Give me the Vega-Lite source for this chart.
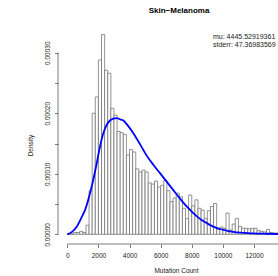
{
  "$schema": "https://vega.github.io/schema/vega-lite/v6.json",
  "width": 220,
  "height": 217,
  "autosize": "none",
  "padding": {"left": 58, "top": 27, "right": 0, "bottom": 32},
  "background": "white",
  "config": {
    "view": {"stroke": null},
    "font": "Liberation Sans",
    "axis": {"domain": false, "grid": false, "tickSize": 3.5, "tickColor": "#444", "tickWidth": 0.7, "labelFontSize": 6.5, "labelColor": "#222", "labelFlush": false, "labelOverlap": false, "labelSeparation": 0, "titleFontSize": 6.5, "titleFontWeight": "normal", "titleColor": "#222"},
    "axisX": {"values": [0, 2000, 4000, 6000, 8000, 10000, 12000, 14000], "labelOverlap": false, "labelBound": false, "labelPadding": 5, "titlePadding": 8, "titleX": 118, "labelExpr": "format(datum.value, 'd')"},
    "axisY": {"values": [0, 0.00005, 0.0001, 0.00015, 0.0002, 0.00025, 0.0003], "labelOverlap": false, "labelAngle": -90, "labelAlign": "center", "labelBaseline": "bottom", "labelPadding": 4.5, "labelExpr": "abs(datum.value*10000 - round(datum.value*10000)) < 0.01 ? format(datum.value, '.5f') : ''", "titlePadding": 11, "titleY": 118}
  },
  "title": {"text": "Skin\u2212Melanoma", "fontSize": 8, "fontWeight": "bold", "font": "Liberation Sans", "anchor": "middle", "dx": 11, "offset": 12, "color": "#000"},
  "datasets": {
    "hist": [
      {"bin_start": 0, "bin_end": 200, "density": 0},
      {"bin_start": 200, "bin_end": 400, "density": 0.000001},
      {"bin_start": 400, "bin_end": 600, "density": 0.000003},
      {"bin_start": 600, "bin_end": 800, "density": 0.000003},
      {"bin_start": 800, "bin_end": 1000, "density": 0.000005},
      {"bin_start": 1000, "bin_end": 1200, "density": 0.000003},
      {"bin_start": 1200, "bin_end": 1400, "density": 0.000015},
      {"bin_start": 1400, "bin_end": 1600, "density": 0.000072},
      {"bin_start": 1600, "bin_end": 1800, "density": 0.0002},
      {"bin_start": 1800, "bin_end": 2000, "density": 0.000227},
      {"bin_start": 2000, "bin_end": 2200, "density": 0.000288},
      {"bin_start": 2200, "bin_end": 2400, "density": 0.00033},
      {"bin_start": 2400, "bin_end": 2600, "density": 0.000271},
      {"bin_start": 2600, "bin_end": 2800, "density": 0.000266},
      {"bin_start": 2800, "bin_end": 3000, "density": 0.000208},
      {"bin_start": 3000, "bin_end": 3200, "density": 0.000197},
      {"bin_start": 3200, "bin_end": 3400, "density": 0.00017},
      {"bin_start": 3400, "bin_end": 3600, "density": 0.000168},
      {"bin_start": 3600, "bin_end": 3800, "density": 0.000165},
      {"bin_start": 3800, "bin_end": 4000, "density": 0.000131},
      {"bin_start": 4000, "bin_end": 4200, "density": 0.00014},
      {"bin_start": 4200, "bin_end": 4400, "density": 0.000136},
      {"bin_start": 4400, "bin_end": 4600, "density": 0.000108},
      {"bin_start": 4600, "bin_end": 4800, "density": 0.000103},
      {"bin_start": 4800, "bin_end": 5000, "density": 0.000106},
      {"bin_start": 5000, "bin_end": 5200, "density": 0.000103},
      {"bin_start": 5200, "bin_end": 5400, "density": 0.000085},
      {"bin_start": 5400, "bin_end": 5600, "density": 0.000083},
      {"bin_start": 5600, "bin_end": 5800, "density": 0.000088},
      {"bin_start": 5800, "bin_end": 6000, "density": 0.000078},
      {"bin_start": 6000, "bin_end": 6200, "density": 0.000081},
      {"bin_start": 6200, "bin_end": 6400, "density": 0.000089},
      {"bin_start": 6400, "bin_end": 6600, "density": 0.000072},
      {"bin_start": 6600, "bin_end": 6800, "density": 0.000054},
      {"bin_start": 6800, "bin_end": 7000, "density": 0.00006},
      {"bin_start": 7000, "bin_end": 7200, "density": 0.000068},
      {"bin_start": 7200, "bin_end": 7400, "density": 0.000062},
      {"bin_start": 7400, "bin_end": 7600, "density": 0.000043},
      {"bin_start": 7600, "bin_end": 7800, "density": 0.000026},
      {"bin_start": 7800, "bin_end": 8000, "density": 0.000065},
      {"bin_start": 8000, "bin_end": 8200, "density": 0.000047},
      {"bin_start": 8200, "bin_end": 8400, "density": 0.000057},
      {"bin_start": 8400, "bin_end": 8600, "density": 0.000043},
      {"bin_start": 8600, "bin_end": 8800, "density": 0.00004},
      {"bin_start": 8800, "bin_end": 9000, "density": 0.000026},
      {"bin_start": 9000, "bin_end": 9200, "density": 0.000039},
      {"bin_start": 9200, "bin_end": 9400, "density": 0.000046},
      {"bin_start": 9400, "bin_end": 9600, "density": 0.000051},
      {"bin_start": 9600, "bin_end": 9800, "density": 0.000008},
      {"bin_start": 9800, "bin_end": 10000, "density": 0.000012},
      {"bin_start": 10000, "bin_end": 10200, "density": 0.00001},
      {"bin_start": 10200, "bin_end": 10400, "density": 0.000035},
      {"bin_start": 10400, "bin_end": 10600, "density": 0.000007},
      {"bin_start": 10600, "bin_end": 10800, "density": 0.000017},
      {"bin_start": 10800, "bin_end": 11000, "density": 0.000026},
      {"bin_start": 11000, "bin_end": 11200, "density": 0.000013},
      {"bin_start": 11200, "bin_end": 11400, "density": 0.00001},
      {"bin_start": 11400, "bin_end": 11600, "density": 0.00001},
      {"bin_start": 11600, "bin_end": 11800, "density": 0.000009},
      {"bin_start": 11800, "bin_end": 12000, "density": 0.00001},
      {"bin_start": 12000, "bin_end": 12200, "density": 0.00001},
      {"bin_start": 12200, "bin_end": 12400, "density": 0.000006},
      {"bin_start": 12400, "bin_end": 12600, "density": 0.000005},
      {"bin_start": 12600, "bin_end": 12800, "density": 0.000004},
      {"bin_start": 12800, "bin_end": 13000, "density": 0.000008},
      {"bin_start": 13000, "bin_end": 13200, "density": 0.000003},
      {"bin_start": 13200, "bin_end": 13400, "density": 0.000002},
      {"bin_start": 13400, "bin_end": 13600, "density": 0.000002},
      {"bin_start": 13600, "bin_end": 13800, "density": 0.000002}
    ],
    "curve": [
      {"x": 0, "density": 0},
      {"x": 300, "density": 0.000004},
      {"x": 604, "density": 0.0000126},
      {"x": 900, "density": 0.000027},
      {"x": 1138, "density": 0.00004},
      {"x": 1568, "density": 0.000079},
      {"x": 1890, "density": 0.000117},
      {"x": 2102, "density": 0.000145},
      {"x": 2316, "density": 0.000167},
      {"x": 2533, "density": 0.000181},
      {"x": 2745, "density": 0.000188},
      {"x": 2957, "density": 0.000191},
      {"x": 3175, "density": 0.000192},
      {"x": 3387, "density": 0.00019},
      {"x": 3600, "density": 0.000188},
      {"x": 3818, "density": 0.000182},
      {"x": 4030, "density": 0.000175},
      {"x": 4242, "density": 0.000167},
      {"x": 4673, "density": 0.000149},
      {"x": 5103, "density": 0.00013},
      {"x": 5528, "density": 0.000115},
      {"x": 5958, "density": 0.000101},
      {"x": 6389, "density": 0.000087},
      {"x": 6813, "density": 0.000073},
      {"x": 7244, "density": 0.000059},
      {"x": 7674, "density": 0.000046},
      {"x": 8100, "density": 0.000035},
      {"x": 8529, "density": 0.0000255},
      {"x": 8959, "density": 0.0000185},
      {"x": 9384, "density": 0.0000128},
      {"x": 9815, "density": 0.0000088},
      {"x": 10246, "density": 0.000006},
      {"x": 10673, "density": 0.000004},
      {"x": 11100, "density": 0.0000027},
      {"x": 11955, "density": 0.0000015},
      {"x": 12800, "density": 0.0000009},
      {"x": 13543, "density": 0.0000005}
    ],
    "notes": [
      {"x": 9365, "y": 0.000326, "label": "mu: 4445.52919361"},
      {"x": 9365, "y": 0.0003127, "label": "stderr: 47.36983569"}
    ]
  },
  "layer": [
    {
      "data": {"name": "hist"},
      "mark": {"type": "rect", "fill": "white", "stroke": "#666", "strokeWidth": 0.7, "clip": true},
      "encoding": {
        "x": {"field": "bin_start", "type": "quantitative", "title": "Mutation Count", "scale": {"domain": [-598, 13543], "nice": false, "zero": false}},
        "x2": {"field": "bin_end"},
        "y": {"field": "density", "type": "quantitative", "title": "Density", "scale": {"domain": [-0.000016, 0.0003425], "nice": false, "zero": false}},
        "y2": {"datum": 0}
      }
    },
    {
      "data": {"name": "curve"},
      "mark": {"type": "line", "color": "#0000ff", "strokeWidth": 1.8, "clip": true, "interpolate": "monotone"},
      "encoding": {
        "x": {"field": "x", "type": "quantitative", "title": "Mutation Count", "scale": {"domain": [-598, 13543], "nice": false, "zero": false}},
        "y": {"field": "density", "type": "quantitative", "title": "Density", "scale": {"domain": [-0.000016, 0.0003425], "nice": false, "zero": false}}
      }
    },
    {
      "data": {"values": [{}]},
      "mark": {"type": "rule", "color": "#444", "strokeWidth": 0.7},
      "encoding": {
        "x": {"datum": -598, "type": "quantitative"},
        "y": {"datum": 0, "type": "quantitative"},
        "y2": {"datum": 0.0003}
      }
    },
    {
      "data": {"values": [{}]},
      "mark": {"type": "rule", "color": "#444", "strokeWidth": 0.7},
      "encoding": {
        "x": {"datum": 0, "type": "quantitative"},
        "x2": {"datum": 14000},
        "y": {"datum": -0.000016, "type": "quantitative"}
      }
    },
    {
      "data": {"name": "notes"},
      "mark": {"type": "text", "align": "left", "baseline": "middle", "fontSize": 7, "color": "#222", "font": "Liberation Sans"},
      "encoding": {
        "x": {"field": "x", "type": "quantitative", "title": "Mutation Count"},
        "y": {"field": "y", "type": "quantitative", "title": "Density"},
        "text": {"field": "label"}
      }
    }
  ]
}
